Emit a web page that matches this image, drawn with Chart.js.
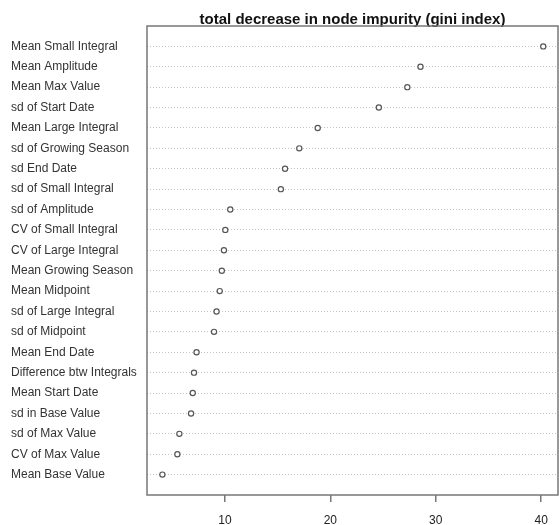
<!DOCTYPE html>
<html>
<head>
<meta charset="utf-8">
<script src="https://cdn.jsdelivr.net/npm/chart.js@4"></script>
<style>
  html, body { margin: 0; padding: 0; background: #fff; }
  #wrap { width: 559px; height: 525px; }
</style>
</head>
<body>
<div id="wrap"><canvas id="dotChart" width="559" height="525"></canvas></div>
<script>
// variables, top to bottom
const variables = [
  'Mean Small Integral', 'Mean Amplitude', 'Mean Max Value', 'sd of Start Date',
  'Mean Large Integral', 'sd of Growing Season', 'sd End Date', 'sd of Small Integral',
  'sd of Amplitude', 'CV of Small Integral', 'CV of Large Integral', 'Mean Growing Season',
  'Mean Midpoint', 'sd of Large Integral', 'sd of Midpoint', 'Mean End Date',
  'Difference btw Integrals', 'Mean Start Date', 'sd in Base Value', 'sd of Max Value',
  'CV of Max Value', 'Mean Base Value'
];
// mean decrease gini
const giniDecrease = [
  40.2, 28.55, 27.3, 24.6,
  18.8, 17.05, 15.7, 15.3,
  10.5, 10.03, 9.9, 9.7,
  9.5, 9.2, 8.96, 7.3,
  7.06, 6.94, 6.78, 5.67,
  5.48, 4.06
];
const xTicks = [10, 20, 30, 40];

const points = giniDecrease.map((v, i) => ({ x: v, y: i + 1 }));

// R draws a full box around the plot
const boxPlugin = {
  id: 'box',
  afterDraw(chart) {
    const a = chart.chartArea;
    const ctx = chart.ctx;
    ctx.save();
    ctx.strokeStyle = '#777';
    ctx.lineWidth = 1.5;
    ctx.strokeRect(a.left, a.top, a.right - a.left, a.bottom - a.top);
    ctx.restore();
  }
};

const ctx = document.getElementById('dotChart').getContext('2d');
new Chart(ctx, {
  type: 'scatter',
  data: {
    datasets: [{
      data: points,
      pointStyle: 'circle',
      pointRadius: 2.6,
      pointBorderWidth: 1.2,
      pointBorderColor: '#555',
      pointBackgroundColor: '#fff'
    }]
  },
  options: {
    responsive: false,
    animation: false,
    layout: { autoPadding: false, padding: { left: 11, right: 1, top: 0, bottom: 0 } },
    plugins: {
      legend: { display: false },
      tooltip: { enabled: false },
      title: {
        display: true,
        fullSize: false,
        text: 'total decrease in node impurity (gini index)',
        color: '#111',
        font: { family: 'Liberation Sans, Arial', size: 15, weight: 'bold', lineHeight: 1 },
        padding: { top: 12, bottom: -1 }
      }
    },
    scales: {
      x: {
        type: 'linear',
        min: 2.6,
        max: 41.6,
        afterBuildTicks: (s) => { s.ticks = xTicks.map(v => ({ value: v })); },
        afterFit: (s) => { s.height = 30; },
        grid: { drawOnChartArea: false, drawTicks: true, tickLength: 7, color: '#777', lineWidth: 1.5 },
        border: { display: false },
        ticks: {
          color: '#222',
          font: { family: 'Liberation Sans, Arial', size: 12 },
          padding: 11,
          maxRotation: 0
        }
      },
      y: {
        type: 'linear',
        reverse: true,
        min: 0,
        max: 23,
        afterBuildTicks: (s) => { s.ticks = variables.map((n, i) => ({ value: i + 1 })); },
        afterFit: (s) => { s.width = 136; },
        grid: { drawTicks: false, color: '#c4c4c4', lineWidth: 1 },
        border: { display: false, dash: [1, 2] },
        ticks: {
          autoSkip: false,
          crossAlign: 'far',
          padding: 0,
          color: '#333',
          font: { family: 'Liberation Sans, Arial', size: 12 },
          callback: (v) => variables[v - 1] || ''
        }
      }
    }
  },
  plugins: [boxPlugin]
});
</script>
</body>
</html>
